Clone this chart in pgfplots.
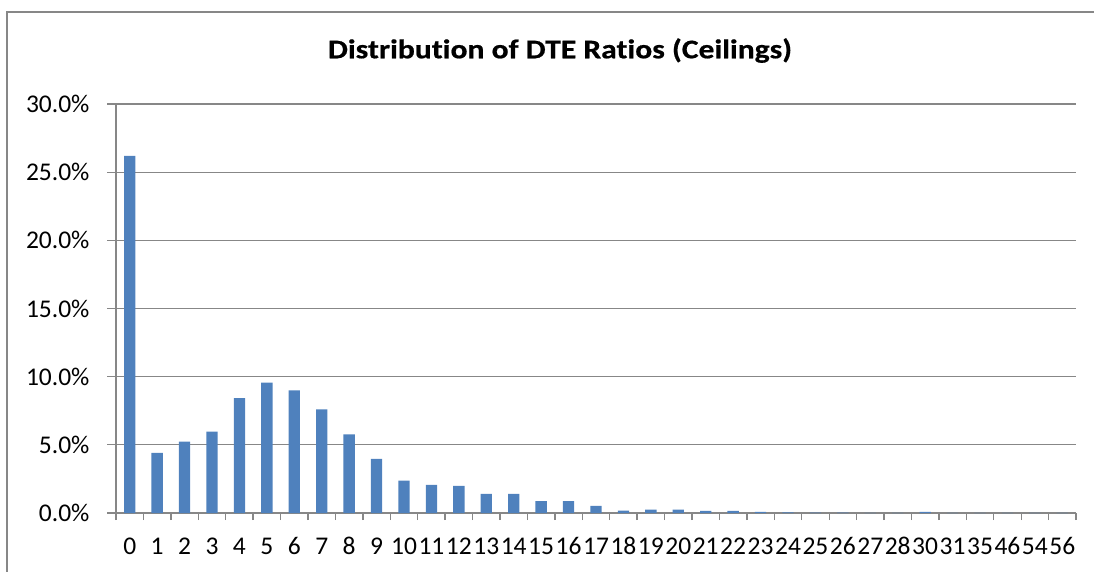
\documentclass[border=0pt]{standalone}
\usepackage{pgfplots}
\pgfplotsset{compat=1.18}
\usepackage{fontspec}
\setmainfont{Carlito}[Ligatures=NoCommon]
\newfontfamily\titlefont[FakeStretch=1.17,FakeBold=0.6,Ligatures=NoCommon]{Carlito Bold}
\definecolor{barblue}{HTML}{4F81BD}
\definecolor{gridgray}{HTML}{878787}
\begin{document}
\begin{tikzpicture}[x=1pt,y=1pt]
\useasboundingbox (0,0) rectangle (1094,571);
\draw[gridgray, line width=1.3pt] (7,-20) -- (7,559) -- (1120,559);
\begin{axis}[
  at={(116pt,58pt)}, anchor=south west,
  scale only axis, width=960pt, height=409pt,
  xmin=-0.5, xmax=34.5, ymin=0, ymax=30,
  axis x line=bottom, axis y line=left,
  axis line style={gridgray, line width=1.3pt, -},
  ytick={0,5,...,30},
  yticklabels={0.0\%,5.0\%,10.0\%,15.0\%,20.0\%,25.0\%,30.0\%},
  xtick={0,...,34},
  xticklabels={0,1,2,3,4,5,6,7,8,9,10,11,12,13,14,15,16,17,18,19,20,21,22,23,24,25,26,27,28,30,31,35,46,54,56},
  minor xtick={-0.5,0.5,...,34.5},
  tick align=outside,
  major tick length=9pt, minor tick length=7pt,
  tick style={gridgray, line width=1.3pt},
  major x tick style={draw=none},
  ymajorgrids, grid style={gridgray, line width=1.3pt},
  tick label style={font=\fontsize{25.5}{30}\selectfont},
  xticklabel style={anchor=base, yshift=-32pt},
  yticklabel style={anchor=east, xshift=-14pt},
]
\addplot[ybar, bar width=11.3pt, fill=barblue, draw=none] coordinates {
(0,26.2) (1,4.41) (2,5.24) (3,5.96) (4,8.43) (5,9.56) (6,9.0) (7,7.6) (8,5.76) (9,3.97)
(10,2.37) (11,2.06) (12,1.99) (13,1.40) (14,1.40) (15,0.88) (16,0.88) (17,0.52) (18,0.17) (19,0.25)
(20,0.25) (21,0.15) (22,0.15) (23,0.08) (24,0.04) (25,0.03) (26,0.02) (27,0.01) (28,0.01)
(29,0.08) (30,0.01) (31,0.01) (32,0.01) (33,0.01) (34,0.01)
};
\end{axis}
\node[anchor=base, font=\fontsize{27}{32}\titlefont] at (560,512.7) {Distribution of DTE Ratios (Ceilings)};
\end{tikzpicture}
\end{document}
